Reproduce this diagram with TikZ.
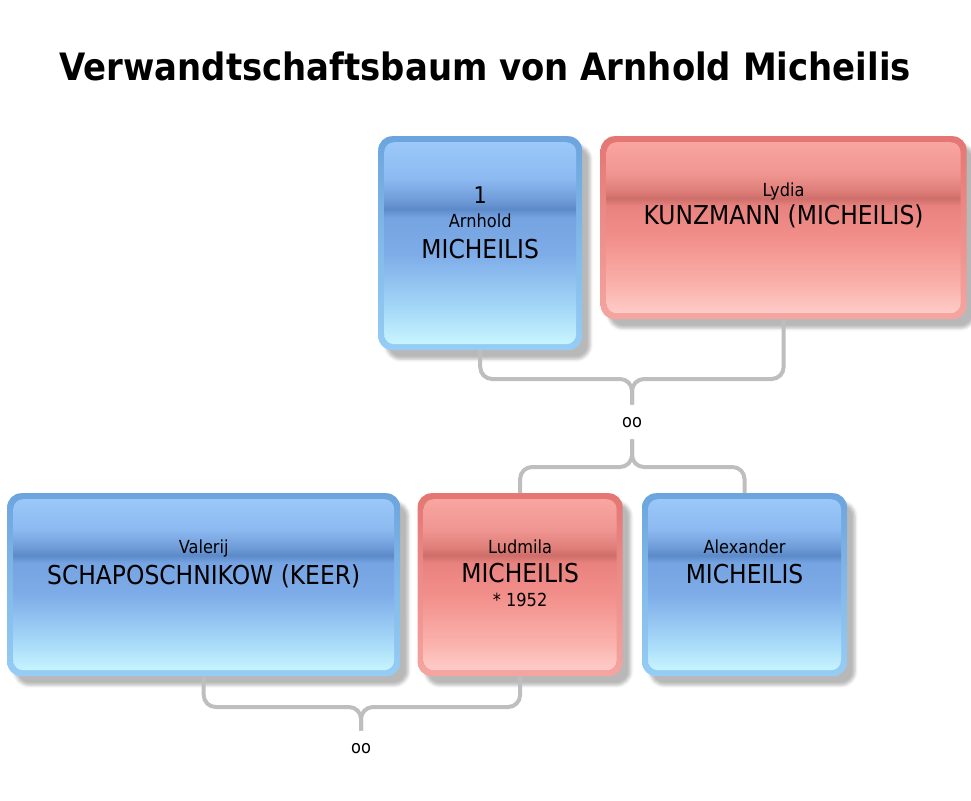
\documentclass[tikz,border=0pt]{standalone}
\usepackage{fontspec}
\setmainfont[FakeStretch=0.9]{DejaVu Sans}
\usetikzlibrary{positioning}
\usetikzlibrary{calc}
\usetikzlibrary{shadows.blur}

\definecolor{blaurandoben}{RGB}{108,165,222}
\definecolor{blaurandunten}{RGB}{150,205,245}
\definecolor{rotrandoben}{RGB}{228,118,115}
\definecolor{rotrandunten}{RGB}{245,165,160}
\definecolor{linienfarbe}{RGB}{190,190,190}

\pgfdeclareverticalshading{blaufuell}{100bp}{color(0bp)=(rgb,255:red,205;green,250;blue,255);
  color(25bp)=(rgb,255:red,205;green,250;blue,255); color(35bp)=(rgb,255:red,165;green,215;blue,248);
  color(47.5bp)=(rgb,255:red,125;green,172;blue,232); color(56bp)=(rgb,255:red,118;green,163;blue,225);
  color(58bp)=(rgb,255:red,92;green,138;blue,200); color(60bp)=(rgb,255:red,110;green,155;blue,215);
  color(65bp)=(rgb,255:red,140;green,185;blue,240); color(75bp)=(rgb,255:red,158;green,203;blue,250);
  color(100bp)=(rgb,255:red,158;green,203;blue,250)}
\pgfdeclareverticalshading{rotfuell}{100bp}{color(0bp)=(rgb,255:red,255;green,210;blue,206);
  color(25bp)=(rgb,255:red,255;green,210;blue,206); color(35bp)=(rgb,255:red,250;green,175;blue,170);
  color(47.5bp)=(rgb,255:red,242;green,142;blue,138); color(56bp)=(rgb,255:red,232;green,130;blue,126);
  color(58bp)=(rgb,255:red,205;green,110;blue,106); color(60bp)=(rgb,255:red,222;green,125;blue,120);
  color(65bp)=(rgb,255:red,240;green,150;blue,146); color(75bp)=(rgb,255:red,250;green,168;blue,163);
  color(100bp)=(rgb,255:red,250;green,168;blue,163)}

\begin{document}
\begin{tikzpicture}[x=1pt, y=-1pt,
    person/.style={rectangle, rounded corners=14pt, inner sep=0pt, minimum height=183pt, minimum width=205pt,
      blur shadow={shadow xshift=8pt, shadow yshift=-9pt, shadow opacity=28, shadow blur radius=3pt}},
    mann/.style={person, top color=blaurandoben, bottom color=blaurandunten,
      path picture={\shade[shading=blaufuell, rounded corners=10pt]
        ([shift={(6pt,-6pt)}]path picture bounding box.north west) rectangle
        ([shift={(-6pt,6pt)}]path picture bounding box.south east);}},
    frau/.style={person, top color=rotrandoben, bottom color=rotrandunten,
      path picture={\shade[shading=rotfuell, rounded corners=10pt]
        ([shift={(6pt,-6pt)}]path picture bounding box.north west) rectangle
        ([shift={(-6pt,6pt)}]path picture bounding box.south east);}},
    vname/.style={anchor=base, inner sep=0pt, font=\fontsize{18}{18}\selectfont},
    nname/.style={anchor=base, inner sep=0pt, font=\fontsize{26}{26}\selectfont},
    nr/.style={anchor=base, inner sep=0pt, font=\fontsize{23}{23}\selectfont},
    ehe/.style={anchor=base, inner xsep=2pt, inner ysep=12pt, font=\fontsize{18}{18}\selectfont},
    linie/.style={draw=linienfarbe, line width=4pt, rounded corners=12pt}]
  \useasboundingbox (0,0) rectangle (971,800);

  \node[font=\bfseries\fontsize{37.7}{38}\selectfont, anchor=base] (titel) at (485,80) {Verwandtschaftsbaum von Arnhold Micheilis};

  % Eltern
  \node[mann, minimum width=204pt, minimum height=214pt, anchor=north west] (arn) at (378,136) {};
  \node[frau, minimum width=366pt, right=18pt of arn.north east, anchor=north west] (lyd) {};
  \node[nr] (arnnr) at ($(arn.north)+(0,67)$) {1};
  \node[vname] (arnvn) at ($(arn.north)+(0,91)$) {Arnhold};
  \node[nname] (arnnn) at ($(arn.north)+(0,122)$) {MICHEILIS};
  \node[vname] (lydvn) at ($(lyd.north)+(0,60)$) {Lydia};
  \node[nname] (lydnn) at ($(lyd.north)+(0,88)$) {KUNZMANN (MICHEILIS)};

  % Kinder
  \node[mann, minimum width=393pt, anchor=north west] (val) at (7,493) {};
  \node[frau, right=17pt of val] (lud) {};
  \node[mann, right=19pt of lud] (ale) {};
  \node[vname] (valvn) at ($(val.north)+(0,60)$) {Valerij};
  \node[nname] (valnn) at ($(val.north)+(0,91)$) {SCHAPOSCHNIKOW (KEER)};
  \node[vname] (ludvn) at ($(lud.north)+(0,60)$) {Ludmila};
  \node[nname] (ludnn) at ($(lud.north)+(0,89)$) {MICHEILIS};
  \node[vname] (ludgeb) at ($(lud.north)+(0,113)$) {* 1952};
  \node[vname] (alevn) at ($(ale.north)+(0,60)$) {Alexander};
  \node[nname] (alenn) at ($(ale.north)+(0,90)$) {MICHEILIS};

  % Ehen
  \node[ehe] (ehe1) at (632,427) {oo};
  \node[ehe] (ehe2) at (361,753) {oo};
  \coordinate (m1) at (632,379);
  \coordinate (m2) at (632,467);
  \coordinate (m3) at (361,707);

  \draw[linie] (arn.south) |- (m1) -- (ehe1.north);
  \draw[linie] (lyd.south) |- (m1) -- (ehe1.north);
  \draw[linie] (ehe1.south) -- (m2) -| (lud.north);
  \draw[linie] (ehe1.south) -- (m2) -| (ale.north);
  \draw[linie] (val.south) |- (m3) -- (ehe2.north);
  \draw[linie] (lud.south) |- (m3) -- (ehe2.north);
\end{tikzpicture}
\end{document}
